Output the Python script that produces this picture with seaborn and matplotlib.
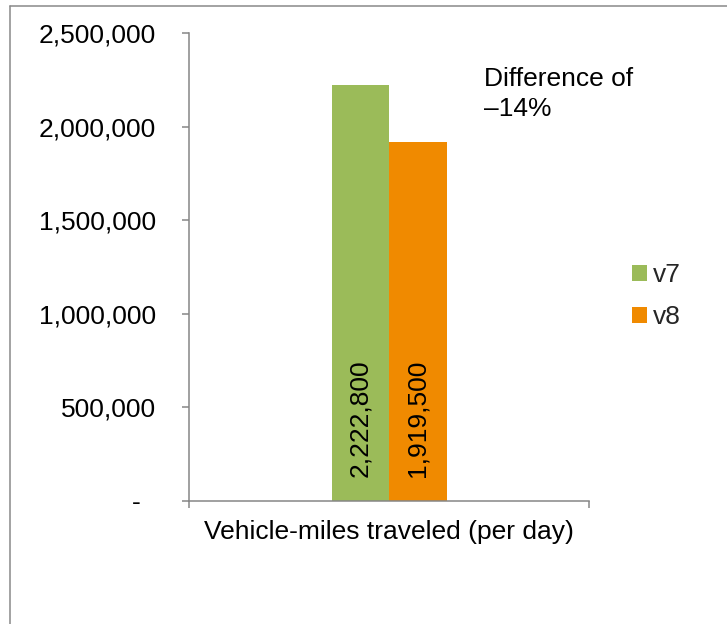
import matplotlib
matplotlib.use("Agg")
import matplotlib.pyplot as plt
import matplotlib.patches as mpatches
from matplotlib.lines import Line2D
from matplotlib.ticker import FuncFormatter
import pandas as pd
import seaborn as sns

# Data
categories = ["Vehicle-miles traveled (per day)"]
versions = ["v7", "v8"]
vmt_values = [2222800, 1919500]
y_ticks = [0, 500000, 1000000, 1500000, 2000000, 2500000]
note_text = "Difference of\n\u201314%"

colors = {"v7": "#9BBB59", "v8": "#F08A00"}
axis_gray = "#868686"
FS = 19

df = pd.DataFrame({
    "category": [categories[0]] * len(versions),
    "version": versions,
    "value": vmt_values,
})

sns.set_theme(style="white")
plt.rcParams["font.family"] = ["Liberation Sans", "DejaVu Sans"]

W, H = 727, 624
fig = plt.figure(figsize=(W / 100, H / 100), dpi=100)
ax = fig.add_axes([189 / W, 1 - 501 / H, 400 / W, 468 / H])

sns.barplot(data=df, x="category", y="value", hue="version",
            palette=colors, width=0.2875, dodge=True, saturation=1,
            edgecolor="none", linewidth=0, ax=ax, legend=False)

ax.set_xlim(-0.5, 0.5)
ax.set_ylim(0, 2500000)
ax.set_yticks(y_ticks)
ax.yaxis.set_major_formatter(
    FuncFormatter(lambda v, p: "-  " if v == 0 else f"{int(v):,}"))
ax.set_xlabel("")
ax.set_ylabel("")

# category label without a tick mark; tick marks at the category bounds
ax.set_xticks([0])
ax.set_xticklabels(categories, fontsize=FS)
ax.tick_params(axis="x", which="major", length=0, pad=14)
ax.set_xticks([-0.5, 0.5], minor=True)
ax.tick_params(axis="x", which="minor", bottom=True, length=5,
               width=1.1, color=axis_gray)
ax.tick_params(axis="y", left=True, length=5, width=1.1, color=axis_gray,
               labelsize=FS, pad=19)
for lbl in ax.get_yticklabels() + ax.get_xticklabels():
    lbl.set_color("black")

for side in ["top", "right"]:
    ax.spines[side].set_visible(False)
for side in ["left", "bottom"]:
    ax.spines[side].set_color(axis_gray)
    ax.spines[side].set_linewidth(1.1)

# value labels at the base of each bar
for container, val in zip(ax.containers, vmt_values):
    for bar in container:
        cx = bar.get_x() + bar.get_width() / 2
        ax.annotate(f"{val:,}", xy=(cx, 0), xytext=(0, 24),
                    textcoords="offset pixels", rotation=90,
                    ha="center", va="bottom", fontsize=FS, color="black")

fig.text(484 / W, 1 - 94 / H, note_text, fontsize=FS, ha="left",
         va="center", color="black", linespacing=1.3)

handles = [mpatches.Patch(facecolor=colors[v], edgecolor="none", label=v)
           for v in versions]
fig.legend(handles=handles, loc="center left",
           bbox_to_anchor=(632 / W, 1 - 296 / H), frameon=False,
           fontsize=FS, handlelength=0.55, handleheight=0.55,
           handletextpad=0.25, labelspacing=0.68, borderpad=0,
           borderaxespad=0)

# outer chart-area border (left and top edges)
fig.add_artist(Line2D([10 / W, 10 / W], [0, 1 - 6 / H],
                      transform=fig.transFigure, color="#898989", lw=1.1))
fig.add_artist(Line2D([10 / W, 1], [1 - 6 / H, 1 - 6 / H],
                      transform=fig.transFigure, color="#898989", lw=1.1))

fig.savefig("out.png", dpi=100, facecolor="white")
